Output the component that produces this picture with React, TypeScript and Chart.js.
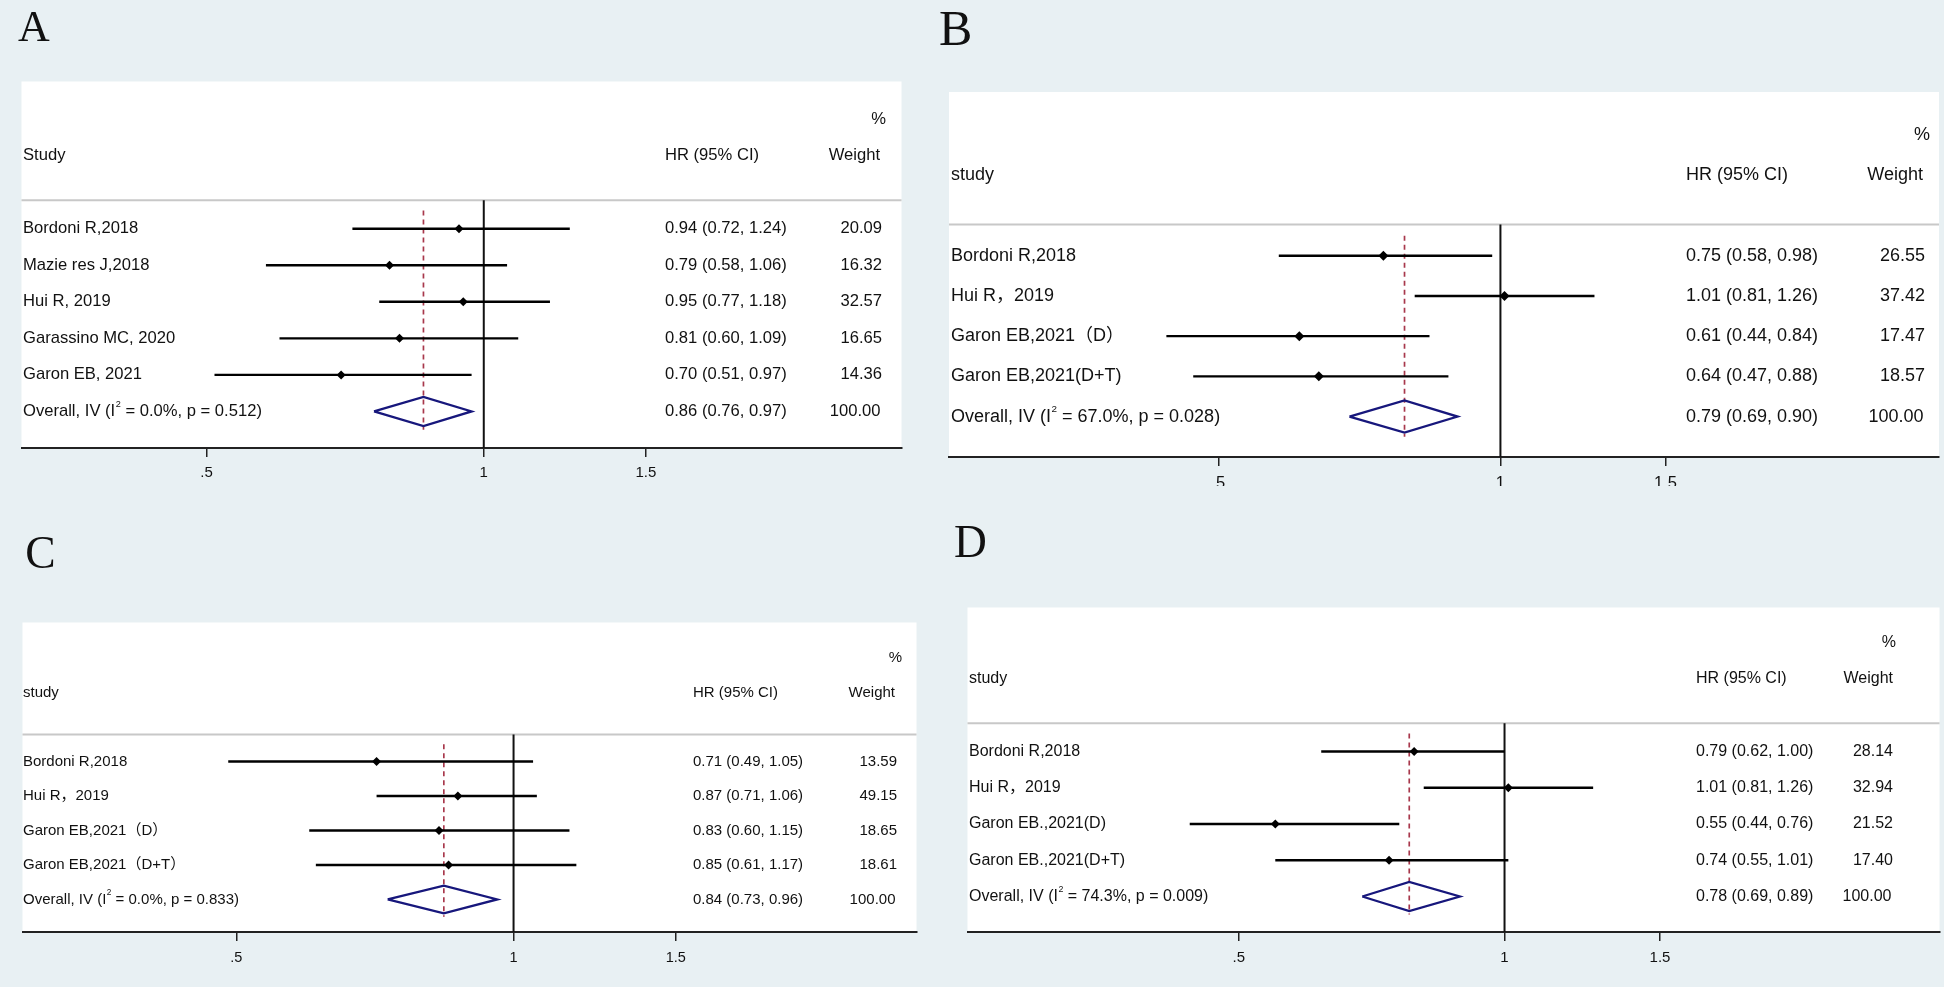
import React, { useEffect, useRef } from "react";
import { Chart, registerables } from "chart.js";
Chart.register(...registerables);

// ---------- shared axis ticks ----------
const tickValues = [0.5, 1, 1.5];
const tickLabels = [".5", "1", "1.5"];

// ---------- Panel A ----------
const studiesA = ["Bordoni R,2018", "Mazie res J,2018", "Hui R, 2019", "Garassino MC, 2020", "Garon EB, 2021"];
const hrA = [0.94, 0.79, 0.95, 0.81, 0.7];
const lowA = [0.72, 0.58, 0.77, 0.6, 0.51];
const highA = [1.24, 1.06, 1.18, 1.09, 0.97];
const weightA = [20.09, 16.32, 32.57, 16.65, 14.36];
const overallA = [0.86, 0.76, 0.97];
const hetA = ["0.0%", "0.512"];

// ---------- Panel B ----------
const studiesB = ["Bordoni R,2018", "Hui R，2019", "Garon EB,2021（D）", "Garon EB,2021(D+T)"];
const hrB = [0.75, 1.01, 0.61, 0.64];
const lowB = [0.58, 0.81, 0.44, 0.47];
const highB = [0.98, 1.26, 0.84, 0.88];
const weightB = [26.55, 37.42, 17.47, 18.57];
const overallB = [0.79, 0.69, 0.9];
const hetB = ["67.0%", "0.028"];

// ---------- Panel C ----------
const studiesC = ["Bordoni R,2018", "Hui R，2019", "Garon EB,2021（D）", "Garon EB,2021（D+T）"];
const hrC = [0.71, 0.87, 0.83, 0.85];
const lowC = [0.49, 0.71, 0.6, 0.61];
const highC = [1.05, 1.06, 1.15, 1.17];
const weightC = [13.59, 49.15, 18.65, 18.61];
const overallC = [0.84, 0.73, 0.96];
const hetC = ["0.0%", "0.833"];

// ---------- Panel D ----------
const studiesD = ["Bordoni R,2018", "Hui R，2019", "Garon EB.,2021(D)", "Garon EB.,2021(D+T)"];
const hrD = [0.79, 1.01, 0.55, 0.74];
const lowD = [0.62, 0.81, 0.44, 0.55];
const highD = [1.0, 1.26, 0.76, 1.01];
const weightD = [28.14, 32.94, 21.52, 17.4];
const overallD = [0.78, 0.69, 0.89];
const hetD = ["74.3%", "0.009"];

// ---------- panel letters ----------
const panelLetters = ["A", "B", "C", "D"];

const BG = "#e8f0f3";
const NAVY = "#17177c";
const DASH = "#a8384c";
const TEXT = "#111111";
const FONT = '"Liberation Sans", Arial, "Noto Sans CJK SC", sans-serif';
const SERIF = '"Liberation Serif", "Times New Roman", serif';

// letter glyph boxes: left, top, bottom (page px)
const letterBoxes = [
  [18, 12, 41],
  [940, 12, 45],
  [27, 538, 569],
  [955, 527, 557],
];

type Layout = {
  left: number; top: number; width: number; height: number;
  axisY: number; one: number; k: number; row0: number; step: number;
  font: number; tickFont: number; tickPad: number;
  labelX: number; hrX: number; wtR: number; wHeadR: number; pctR: number;
  marker: number;
};

const layoutA: Layout = { left: 17, top: 77, width: 889, height: 413, axisY: 448, one: 484, k: 404, row0: 226, step: 37,
  font: 16.6, tickFont: 15, tickPad: 7, labelX: 23, hrX: 665, wtR: 882, wHeadR: 880, pctR: 886, marker: 4.5 };
const layoutB: Layout = { left: 944, top: 87, width: 1000, height: 399, axisY: 457, one: 1501, k: 411, row0: 253, step: 40.75,
  font: 18, tickFont: 16.5, tickPad: 8, labelX: 951, hrX: 1686, wtR: 1925, wHeadR: 1923, pctR: 1930, marker: 5 };
const layoutC: Layout = { left: 18, top: 618, width: 903, height: 362, axisY: 932, one: 514, k: 404, row0: 759, step: 35,
  font: 15, tickFont: 14.5, tickPad: 8, labelX: 23, hrX: 693, wtR: 897, wHeadR: 895, pctR: 902, marker: 4.5 };
const layoutD: Layout = { left: 963, top: 603, width: 981, height: 377, axisY: 932, one: 1505, k: 387, row0: 749, step: 36.75,
  font: 16, tickFont: 15, tickPad: 7.5, labelX: 969, hrX: 1696, wtR: 1893, wHeadR: 1893, pctR: 1896, marker: 4.5 };

type PanelProps = {
  header: string; studies: string[]; hr: number[]; low: number[]; high: number[];
  weight: number[]; overall: number[]; het: string[]; layout: Layout;
};

const fmtCI = (e: number, l: number, h: number) => `${e.toFixed(2)} (${l.toFixed(2)}, ${h.toFixed(2)})`;

function ForestPanel(p: PanelProps) {
  const ref = useRef<HTMLCanvasElement>(null);
  const L = p.layout;
  useEffect(() => {
    const canvas = ref.current;
    if (!canvas) return;
    const n = p.studies.length;
    const yMin = (L.top - L.row0) / L.step;
    const yMax = (L.axisY - L.row0) / L.step;
    const xMin = Math.exp(-(L.one - L.left) / L.k);
    const xMax = Math.exp((L.left + L.width - L.one) / L.k);
    const axisH = L.top + L.height - L.axisY;
    const sepRow = -0.78;
    const [oEst, oLo, oHi] = p.overall;

    const datasets: any[] = [];
    datasets.push({
      data: p.hr.map((v, i) => ({ x: v, y: i })), pointStyle: "rectRot", pointRadius: L.marker,
      backgroundColor: "#000", borderColor: "#000", borderWidth: 0, showLine: false, order: 0,
    });
    datasets.push({
      data: [{ x: oLo, y: n }, { x: oEst, y: n - 0.4 }, { x: oHi, y: n }, { x: oEst, y: n + 0.4 }, { x: oLo, y: n }],
      showLine: true, borderColor: NAVY, borderWidth: 2.3, pointRadius: 0, borderJoinStyle: "miter", tension: 0, order: 1,
    });
    p.low.forEach((lo, i) =>
      datasets.push({
        data: [{ x: lo, y: i }, { x: p.high[i], y: i }], showLine: true, borderColor: "#000",
        borderWidth: 2.4, pointRadius: 0, order: 2,
      })
    );
    datasets.push({
      data: [{ x: 1, y: sepRow }, { x: 1, y: yMax }], showLine: true, borderColor: "#111",
      borderWidth: 2, pointRadius: 0, order: 3,
    });
    datasets.push({
      data: [{ x: oEst, y: -0.5 }, { x: oEst, y: n + 0.5 }], showLine: true, borderColor: DASH,
      borderWidth: 1.7, borderDash: [5, 4], pointRadius: 0, order: 4,
    });

    const decor = {
      id: "forestDecor",
      beforeDraw(chart: any) {
        const { ctx, chartArea: a, scales } = chart;
        ctx.save();
        ctx.fillStyle = "#fff";
        ctx.fillRect(a.left, a.top, a.right - a.left, a.bottom - a.top);
        const sy = scales.y.getPixelForValue(sepRow);
        ctx.strokeStyle = "#c8c8c8";
        ctx.lineWidth = 2;
        ctx.beginPath();
        ctx.moveTo(a.left, sy);
        ctx.lineTo(a.right, sy);
        ctx.stroke();
        ctx.restore();
      },
      afterDraw(chart: any) {
        const { ctx, scales } = chart;
        const yp = (r: number) => scales.y.getPixelForValue(r);
        const ox = L.left;
        ctx.save();
        ctx.fillStyle = TEXT;
        ctx.textBaseline = "middle";
        ctx.font = `${L.font}px ${FONT}`;
        ctx.textAlign = "right";
        ctx.fillText("%", L.pctR - ox, yp(-3));
        ctx.fillText("Weight", L.wHeadR - ox, yp(-2));
        ctx.textAlign = "left";
        ctx.fillText(p.header, L.labelX - ox, yp(-2));
        ctx.fillText("HR (95% CI)", L.hrX - ox, yp(-2));
        p.studies.forEach((s, i) => {
          ctx.textAlign = "left";
          ctx.fillText(s, L.labelX - ox, yp(i));
          ctx.fillText(fmtCI(p.hr[i], p.low[i], p.high[i]), L.hrX - ox, yp(i));
          ctx.textAlign = "right";
          ctx.fillText(p.weight[i].toFixed(2), L.wtR - ox, yp(i));
        });
        const oy = yp(n);
        ctx.textAlign = "left";
        const part1 = "Overall, IV (I";
        let x = L.labelX - ox;
        ctx.fillText(part1, x, oy);
        x += ctx.measureText(part1).width + 0.5;
        ctx.font = `${L.font * 0.55}px ${FONT}`;
        ctx.fillText("2", x, oy - L.font * 0.42);
        x += ctx.measureText("2").width;
        ctx.font = `${L.font}px ${FONT}`;
        ctx.fillText(` = ${p.het[0]}, p = ${p.het[1]})`, x, oy);
        ctx.fillText(fmtCI(oEst, oLo, oHi), L.hrX - ox, oy);
        ctx.textAlign = "right";
        ctx.fillText("100.00", L.wtR - 1.5 - ox, oy);
        ctx.restore();
      },
    };

    const chart = new Chart(canvas, {
      type: "scatter",
      data: { datasets },
      options: {
        animation: false,
        responsive: false,
        maintainAspectRatio: false,
        events: [],
        layout: { padding: 0 },
        plugins: { legend: { display: false }, tooltip: { enabled: false } },
        scales: {
          x: {
            type: "logarithmic",
            position: "bottom",
            min: xMin,
            max: xMax,
            bounds: "data",
            afterBuildTicks: (s: any) => {
              s.ticks = tickValues.map((v) => ({ value: v }));
            },
            afterFit: (s: any) => {
              s.height = axisH;
            },
            ticks: {
              autoSkip: false,
              maxRotation: 0,
              padding: L.tickPad,
              color: TEXT,
              font: { family: FONT, size: L.tickFont },
              callback: (_v: any, i: number) => tickLabels[i],
            },
            grid: { display: true, drawOnChartArea: false, drawTicks: true, tickLength: 9, color: "#222", lineWidth: 1.5 },
            border: { display: true, color: "#222", width: 2 },
          },
          y: { type: "linear", display: false, reverse: true, min: yMin, max: yMax },
        },
      } as any,
      plugins: [decor],
    });
    return () => chart.destroy();
  }, []);

  return (
    <canvas
      ref={ref}
      width={L.width}
      height={L.height}
      style={{ position: "absolute", left: L.left, top: L.top, width: L.width, height: L.height }}
    />
  );
}

function Letters() {
  const ref = useRef<HTMLCanvasElement>(null);
  useEffect(() => {
    const c = ref.current;
    if (!c) return;
    const ctx = c.getContext("2d");
    if (!ctx) return;
    ctx.clearRect(0, 0, c.width, c.height);
    ctx.fillStyle = "#111";
    ctx.textAlign = "left";
    ctx.textBaseline = "alphabetic";
    panelLetters.forEach((ch, i) => {
      const [lx, ty, by] = letterBoxes[i];
      ctx.font = `100px ${SERIF}`;
      const m = ctx.measureText(ch);
      const h = m.actualBoundingBoxAscent + m.actualBoundingBoxDescent;
      const size = ((by - ty) / h) * 100;
      const sc = size / 100;
      ctx.font = `${size}px ${SERIF}`;
      ctx.fillText(ch, lx + m.actualBoundingBoxLeft * sc, ty + m.actualBoundingBoxAscent * sc);
    });
  }, []);
  return <canvas ref={ref} width={1944} height={987} style={{ position: "absolute", left: 0, top: 0 }} />;
}

export default function App() {
  useEffect(() => {
    document.body.style.margin = "0";
  }, []);
  return (
    <div style={{ position: "relative", width: 1944, height: 987, background: BG, overflow: "hidden" }}>
      <Letters />
      <ForestPanel header="Study" studies={studiesA} hr={hrA} low={lowA} high={highA} weight={weightA}
        overall={overallA} het={hetA} layout={layoutA} />
      <ForestPanel header="study" studies={studiesB} hr={hrB} low={lowB} high={highB} weight={weightB}
        overall={overallB} het={hetB} layout={layoutB} />
      <ForestPanel header="study" studies={studiesC} hr={hrC} low={lowC} high={highC} weight={weightC}
        overall={overallC} het={hetC} layout={layoutC} />
      <ForestPanel header="study" studies={studiesD} hr={hrD} low={lowD} high={highD} weight={weightD}
        overall={overallD} het={hetD} layout={layoutD} />
    </div>
  );
}
